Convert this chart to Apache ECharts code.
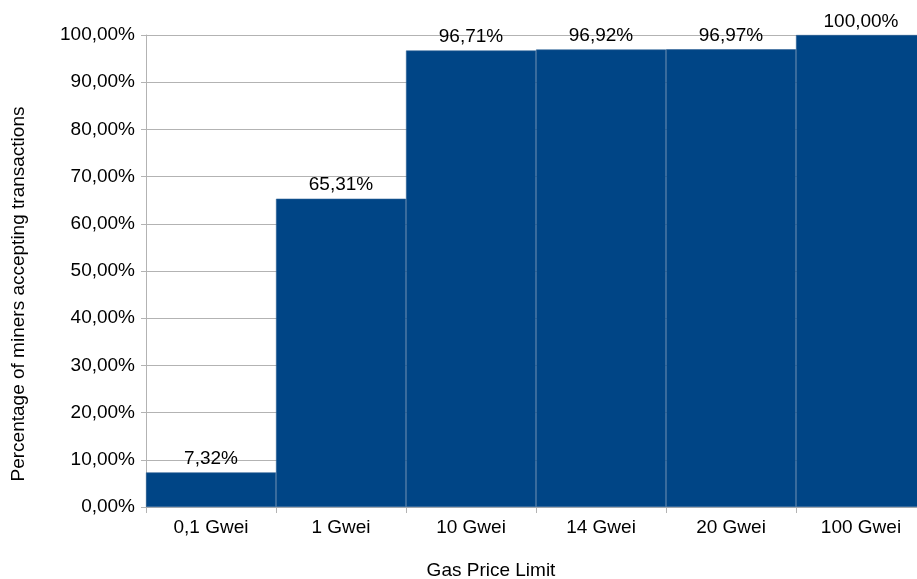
<!DOCTYPE html>
<html>
<head>
<meta charset="utf-8">
<script src="https://cdn.jsdelivr.net/npm/echarts@6/dist/echarts.min.js"></script>
<style>
  html, body { margin: 0; padding: 0; background: #fff; }
  #chart { width: 917px; height: 579px; }
</style>
</head>
<body>
<div id="chart"></div>
<script>
// Gas price limits and share of miners accepting transactions at each limit
var categories = ['0,1 Gwei', '1 Gwei', '10 Gwei', '14 Gwei', '20 Gwei', '100 Gwei'];
var acceptance = [7.32, 65.31, 96.71, 96.92, 96.97, 100.00];
var yTicks = { min: 0, max: 100, interval: 10 };

function pct(v) {
  return v.toFixed(2).replace('.', ',') + '%';
}

var FONT = '"Liberation Sans", Arial, sans-serif';
var chart = echarts.init(document.getElementById('chart'), null, { renderer: 'canvas' });

chart.setOption({
  animation: false,
  backgroundColor: '#ffffff',
  grid: { left: 146, top: 35, width: 780, height: 472, containLabel: false, outerBoundsMode: 'none' },
  xAxis: {
    type: 'category',
    data: categories,
    axisLine: { lineStyle: { color: '#b3b3b3', width: 1 } },
    axisTick: { show: true, length: 6, lineStyle: { color: '#b3b3b3' } },
    axisLabel: { color: '#000', fontFamily: FONT, fontSize: 19, margin: 11 },
    splitLine: { show: false }
  },
  yAxis: {
    type: 'value',
    min: yTicks.min,
    max: yTicks.max,
    interval: yTicks.interval,
    axisLine: { show: true, lineStyle: { color: '#b3b3b3', width: 1 } },
    axisTick: { show: true, length: 5, lineStyle: { color: '#b3b3b3' } },
    axisLabel: { color: '#000', fontFamily: FONT, fontSize: 19, margin: 11, formatter: function (v) { return pct(v); } },
    splitLine: { show: true, lineStyle: { color: '#b3b3b3', width: 1 } }
  },
  graphic: [{
    type: 'text',
    x: 491,
    y: 571,
    style: { text: 'Gas Price Limit', fill: '#000', font: '19px ' + FONT, align: 'center', verticalAlign: 'middle' }
  }, {
    type: 'text',
    x: 19,
    y: 294,
    rotation: Math.PI / 2,
    style: { text: 'Percentage of miners accepting transactions', fill: '#000', font: '19px ' + FONT, align: 'center', verticalAlign: 'middle' }
  }],
  series: [{
    type: 'bar',
    data: acceptance,
    barCategoryGap: '0%',
    itemStyle: { color: '#004586', borderColor: '#2b5f94', borderWidth: 0.6 },
    label: {
      show: true,
      position: 'top',
      distance: 4,
      color: '#000',
      fontFamily: FONT,
      fontSize: 19,
      formatter: function (p) { return pct(p.value); }
    }
  }]
});
</script>
</body>
</html>
